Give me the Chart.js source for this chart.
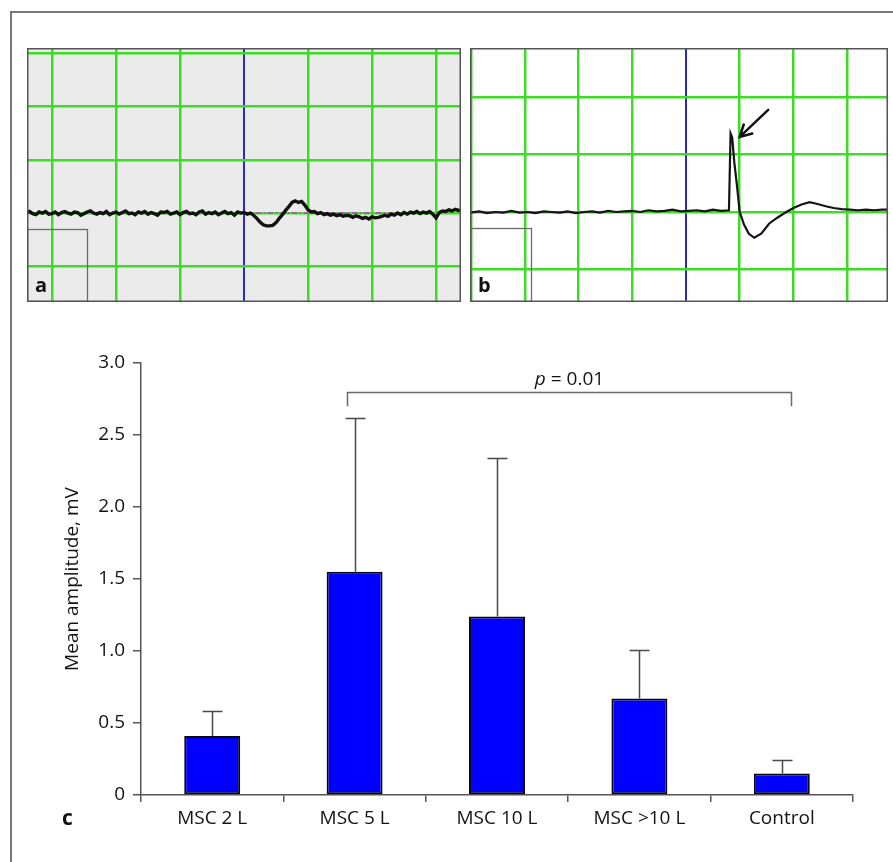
<!DOCTYPE html>
<html><head><meta charset="utf-8">
<script src="https://cdn.jsdelivr.net/npm/chart.js@4.4.0/dist/chart.umd.min.js"></script>
<style>
html,body{margin:0;padding:0;background:#fff;}
body{width:893px;height:862px;position:relative;overflow:hidden;font-family:"Open Sans",sans-serif;}
#frame{position:absolute;left:10px;top:11px;width:890px;height:860px;border-top:2px solid #787878;border-left:2px solid #787878;}
canvas{position:absolute;display:block;}
#ca{left:27px;top:48px;}
#cb{left:470px;top:48px;}
#cc{left:0;top:320px;}
</style></head><body>
<div id="frame"></div>
<canvas id="ca" width="434" height="254"></canvas>
<canvas id="cb" width="418" height="254"></canvas>
<canvas id="cc" width="893" height="542"></canvas>
<script>
// ---------- Panel a: recorded trace (grid divisions) ----------
const traceAX = [-0.40,-0.35,-0.30,-0.25,-0.20,-0.15,-0.10,-0.05,0.00,0.05,0.10,0.15,0.20,0.25,0.30,0.35,0.40,0.45,0.50,0.55,
  0.60,0.65,0.70,0.75,0.80,0.85,0.90,0.95,1.00,1.05,1.10,1.15,1.20,1.25,1.30,1.35,1.40,1.45,1.50,1.55,
  1.60,1.65,1.70,1.75,1.80,1.85,1.90,1.95,2.00,2.05,2.10,2.15,2.20,2.25,2.30,2.35,2.40,2.45,2.50,2.55,
  2.60,2.65,2.70,2.75,2.80,2.85,2.90,2.95,
  3.00,3.05,3.10,3.15,3.20,3.25,3.30,3.35,3.40,3.45,3.50,3.55,3.60,3.65,3.70,3.75,3.80,3.85,3.90,3.95,
  4.00,4.05,4.10,4.15,4.20,4.25,4.30,4.35,4.40,4.45,4.50,4.55,4.60,4.65,4.70,4.75,4.80,4.85,4.90,4.95,
  5.00,5.05,5.10,5.15,5.20,5.25,5.30,5.35,5.40,5.45,5.50,5.55,5.60,5.65,5.70,5.75,5.80,5.85,5.90,5.95,
  6.00,6.05,6.10,6.15,6.20,6.25,6.30,6.35,6.40];
const traceAY = [0.01,0.03,-0.01,-0.03,0.02,0.00,0.03,-0.02,-0.01,0.02,
  -0.03,0.01,0.03,0.00,-0.02,0.02,0.01,-0.04,-0.01,0.02,
  0.04,0.00,-0.02,0.01,-0.01,0.03,-0.03,0.00,0.02,-0.02,
  0.01,0.04,-0.01,0.00,-0.03,0.02,0.00,0.03,-0.02,0.01,
  -0.01,-0.04,0.02,0.01,0.03,-0.02,0.00,0.02,-0.03,0.01,
  0.03,-0.01,0.00,-0.03,0.02,0.04,-0.02,0.01,-0.01,0.02,
  -0.03,0.00,0.03,-0.01,0.01,-0.04,0.02,0.00,
  0.01,-0.02,0.00,-0.04,-0.10,-0.17,-0.22,-0.24,-0.24,-0.23,-0.18,-0.10,-0.03,0.05,0.12,0.20,0.23,0.20,0.22,0.15,
  0.06,0.02,0.03,-0.01,0.01,-0.03,-0.01,-0.04,-0.02,-0.05,-0.03,-0.06,-0.04,-0.05,-0.08,-0.05,-0.07,-0.10,-0.08,-0.11,
  -0.07,-0.09,-0.08,-0.06,-0.04,-0.06,-0.02,-0.04,0.00,-0.03,0.01,-0.02,0.02,0.00,0.03,-0.01,0.02,0.00,0.03,-0.02,
  -0.09,0.01,0.04,0.03,0.06,0.04,0.07,0.05,0.06];
const refLineAX = [3.0, 5.4];
const refLineAY = [0, 0];

// ---------- Panel b: recorded trace (grid divisions) ----------
const traceBX = [-1.02,-0.85,-0.7,-0.55,-0.4,-0.25,-0.1,0.05,0.2,0.35,0.5,0.65,0.8,0.95,1.1,1.25,1.4,1.55,1.7,1.85,2.0,2.15,2.3,2.45,2.6,2.75,2.9,3.05,3.2,3.35,3.5,3.65,3.8,
  3.83,3.86,3.9,3.95,4.0,4.08,4.17,4.27,4.4,4.55,4.7,4.85,5.0,5.15,5.3,5.45,5.6,5.75,5.9,6.05,6.2,6.35,6.5,6.65,6.76];
const traceBY = [-0.01,0.01,-0.02,0.00,-0.01,0.02,-0.01,0.00,-0.02,0.01,0.00,-0.01,0.01,-0.02,0.00,0.01,-0.01,0.02,0.00,0.01,0.02,0.00,0.03,0.01,0.02,0.04,0.01,0.02,0.03,0.01,0.04,0.02,0.03,
  1.37,1.30,0.86,0.45,0.00,-0.22,-0.38,-0.45,-0.38,-0.20,-0.10,-0.01,0.07,0.13,0.17,0.14,0.10,0.07,0.05,0.04,0.03,0.04,0.03,0.04,0.04];
const arrowB = {fromX: 4.53, fromY: 1.78, toX: 4.0, toY: 1.31};

// ---------- Panel c: bar chart ----------
const categories = ['MSC 2 L', 'MSC 5 L', 'MSC 10 L', 'MSC >10 L', 'Control'];
const meanValues = [0.41, 1.55, 1.24, 0.67, 0.15];
const errorTops  = [0.58, 2.62, 2.34, 1.01, 0.24];
const yTicks = [0, 0.5, 1.0, 1.5, 2.0, 2.5, 3.0];
const bracket = {from: 1, to: 4, y: 2.80, legBottom: 2.70, label: '0.01'};

const GREEN = '#3fdc27', BLUE = '#2a2ac8', AX = '#555555', TXT = '#141414';
const FONT = '"Open Sans", "DejaVu Sans", sans-serif';

const decoPlugin = {
  id: 'deco',
  beforeDraw(chart, args, o) {
    const {ctx, chartArea: a} = chart;
    ctx.save(); ctx.fillStyle = o.bg; ctx.fillRect(a.left, a.top, a.width, a.height); ctx.restore();
  },
  afterDatasetsDraw(chart, args, o) {
    const {ctx, chartArea: a, scales: {x, y}} = chart;
    ctx.save();
    const bx2 = x.getPixelForValue(o.boxX), by1 = y.getPixelForValue(o.boxY);
    ctx.strokeStyle = '#6a6a6a'; ctx.lineWidth = 1.3;
    ctx.strokeRect(a.left + 0.5, Math.round(by1) + 0.5, Math.round(bx2 - a.left), Math.round(a.bottom - by1) - 1);
    ctx.strokeStyle = '#555'; ctx.lineWidth = 1.5;
    ctx.strokeRect(a.left + 0.75, a.top + 0.75, a.width - 1.5, a.height - 1.5);
    ctx.fillStyle = '#111'; ctx.font = 'bold 20px ' + FONT; ctx.textBaseline = 'alphabetic'; ctx.textAlign = 'left';
    ctx.fillText(o.letter, a.left + 8, a.bottom - 10);
    if (o.arrow) {
      const x1 = x.getPixelForValue(o.arrow.fromX), y1 = y.getPixelForValue(o.arrow.fromY);
      const x2 = x.getPixelForValue(o.arrow.toX), y2 = y.getPixelForValue(o.arrow.toY);
      const ang = Math.atan2(y2 - y1, x2 - x1), L = 13, sp = 0.5;
      ctx.strokeStyle = '#111'; ctx.lineWidth = 2.5; ctx.lineCap = 'round';
      ctx.beginPath(); ctx.moveTo(x1, y1); ctx.lineTo(x2, y2);
      ctx.moveTo(x2 - L * Math.cos(ang - sp), y2 - L * Math.sin(ang - sp)); ctx.lineTo(x2, y2);
      ctx.lineTo(x2 - L * Math.cos(ang + sp), y2 - L * Math.sin(ang + sp));
      ctx.stroke();
    }
    ctx.restore();
  }
};

function traceChart(id, cfg) {
  return new Chart(document.getElementById(id), {
    type: 'scatter',
    data: {datasets: cfg.datasets},
    options: {
      responsive: false, animation: false, devicePixelRatio: 1,
      layout: {padding: 0},
      plugins: {legend: {display: false}, tooltip: {enabled: false}, deco: cfg.deco},
      scales: {
        x: {type: 'linear', min: cfg.xmin, max: cfg.xmax,
            ticks: {display: false, stepSize: 1, includeBounds: false},
            grid: {drawTicks: false, color: c => (c.tick && c.tick.value === 3) ? BLUE : GREEN,
                   lineWidth: c => (c.tick && c.tick.value === 3) ? 2 : 2.5},
            border: {display: false}, afterFit: s => { s.height = 0; }},
        y: {type: 'linear', min: cfg.ymin, max: cfg.ymax,
            ticks: {display: false, stepSize: 1, includeBounds: false},
            grid: {drawTicks: false, color: GREEN, lineWidth: 2.5},
            border: {display: false}, afterFit: s => { s.width = 0; }}
      }
    },
    plugins: [decoPlugin]
  });
}

const zip = (xs, ys) => xs.map((v, i) => ({x: v, y: ys[i]}));

traceChart('ca', {
  xmin: -0.39, xmax: 6.39, ymin: -1.67, ymax: 3.1,
  datasets: [
    {data: zip(traceAX, traceAY), showLine: true, pointRadius: 0, borderColor: '#111', borderWidth: 3.4, tension: 0},
    {data: zip(refLineAX, refLineAY), showLine: true, pointRadius: 0, borderColor: '#c43cc8', borderWidth: 1.5, borderDash: [5, 3, 1, 3]}
  ],
  deco: {bg: '#ebebeb', letter: 'a', boxX: 0.55, boxY: -0.29}
});

traceChart('cb', {
  xmin: -1.02, xmax: 6.76, ymin: -1.57, ymax: 2.86,
  datasets: [
    {data: zip(traceBX, traceBY), showLine: true, pointRadius: 0, borderColor: '#151515', borderWidth: 2.2, tension: 0}
  ],
  deco: {bg: '#ffffff', letter: 'b', boxX: 0.11, boxY: -0.28, arrow: arrowB}
});

const barDeco = {
  id: 'barDeco',
  afterDatasetsDraw(chart) {
    const {ctx, scales: {x, y}} = chart;
    ctx.save();
    ctx.strokeStyle = '#4a4a4a'; ctx.lineWidth = 1.5;
    meanValues.forEach((v, i) => {
      const px = Math.round(x.getPixelForValue(i)) + 0.5;
      const y0 = y.getPixelForValue(v), y1 = Math.round(y.getPixelForValue(errorTops[i])) + 0.5;
      ctx.beginPath(); ctx.moveTo(px, y0); ctx.lineTo(px, y1);
      ctx.moveTo(px - 10, y1); ctx.lineTo(px + 10, y1); ctx.stroke();
    });
    // significance bracket
    const cw = x.getPixelForValue(1) - x.getPixelForValue(0);
    const xl = Math.round(x.getPixelForValue(bracket.from) - 0.053 * cw) + 0.5;
    const xr = Math.round(x.getPixelForValue(bracket.to) + 0.063 * cw) + 0.5;
    const yb = Math.round(y.getPixelForValue(bracket.y)) + 0.5, yl = y.getPixelForValue(bracket.legBottom);
    ctx.strokeStyle = '#6a6a6a';
    ctx.beginPath(); ctx.moveTo(xl, yl); ctx.lineTo(xl, yb); ctx.lineTo(xr, yb); ctx.lineTo(xr, yl); ctx.stroke();
    // p-value text
    const fi = 'italic 19px ' + FONT, fn = '19px ' + FONT;
    ctx.font = fi; const wp = ctx.measureText('p').width;
    ctx.font = fn; const rest = ' = ' + bracket.label; const wr = ctx.measureText(rest).width;
    let tx = (xl + xr) / 2 - (wp + wr) / 2; const ty = yb - 8;
    ctx.fillStyle = TXT; ctx.textBaseline = 'alphabetic'; ctx.textAlign = 'left';
    ctx.font = fi; ctx.fillText('p', tx, ty);
    ctx.font = fn; ctx.fillText(rest, tx + wp, ty);
    // panel letter
    ctx.font = 'bold 21px ' + FONT; ctx.fillStyle = '#111';
    ctx.fillText('c', 62, chart.chartArea.bottom + 30);
    ctx.restore();
  }
};

new Chart(document.getElementById('cc'), {
  type: 'bar',
  data: {labels: categories, datasets: [{
    data: meanValues, backgroundColor: '#0000ff', borderColor: '#0a0a0a', borderWidth: 2,
    borderSkipped: false, barPercentage: 0.393, categoryPercentage: 1
  }]},
  options: {
    responsive: false, animation: false, devicePixelRatio: 1,
    layout: {padding: {left: 50, top: 43, right: 40, bottom: 0}},
    plugins: {legend: {display: false}, tooltip: {enabled: false}},
    scales: {
      x: {
        grid: {offset: true, drawOnChartArea: false, tickLength: 7, color: AX, lineWidth: 1.5},
        border: {color: AX, width: 1.5},
        ticks: {font: {family: FONT, size: 19}, color: TXT, padding: 5, maxRotation: 0},
        afterFit: s => { s.height = 67; }
      },
      y: {
        min: 0, max: 3,
        afterBuildTicks: s => { s.ticks = yTicks.map(v => ({value: v})); },
        ticks: {font: {family: FONT, size: 19}, color: TXT, padding: 8,
                callback: v => v === 0 ? '0' : Number(v).toFixed(1)},
        grid: {drawOnChartArea: false, tickLength: 8, color: AX, lineWidth: 1.5},
        border: {color: AX, width: 1.5},
        title: {display: true, text: 'Mean amplitude, mV', font: {family: FONT, size: 19}, color: TXT, padding: {top: 11, bottom: 0}},
        afterFit: s => { s.width = 91; }
      }
    }
  },
  plugins: [barDeco]
});
</script>
</body></html>
